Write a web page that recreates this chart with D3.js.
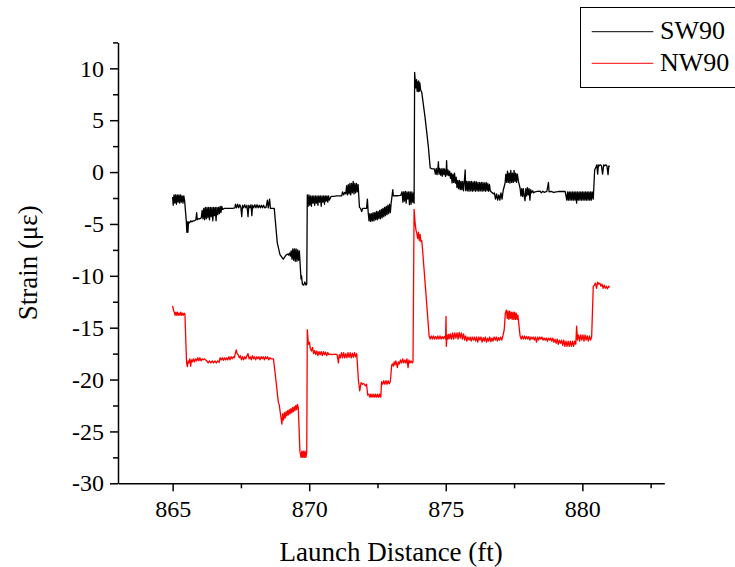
<!DOCTYPE html>
<html>
<head>
<meta charset="utf-8">
<script src="https://cdn.jsdelivr.net/npm/d3@7"></script>
<style>
  html, body { margin: 0; padding: 0; background: #fff; }
  svg { display: block; }
  svg text { font-family: "Liberation Serif", "Times New Roman", Times, serif !important; fill: #000; }
</style>
</head>
<body>
<svg id="chart" width="735" height="567"></svg>
<script>
// ---------------- data ----------------
const seriesNames = ["SW90", "NW90"];
const seriesColors = ["#000000", "#ff0000"];
const xTicksMajor = [865, 870, 875, 880];
const xTicksMinor = [867.5, 872.5, 877.5, 882.5];
const yTicksMajor = [-30, -25, -20, -15, -10, -5, 0, 5, 10];
const yTicksMinor = [-27.5, -22.5, -17.5, -12.5, -7.5, -2.5, 2.5, 7.5, 12.5];
const xTitle = "Launch Distance (ft)";
const yTitle = "Strain (με)";

// SW90 : [distance (ft), strain (με)]
const sw90 = [
[865.00,-2.4],[865.02,-3.2],[865.05,-2.2],[865.08,-3.0],[865.11,-2.2],[865.14,-3.1],[865.17,-2.2],[865.20,-2.9],[865.23,-2.2],[865.26,-3.0],[865.29,-2.2],[865.32,-2.9],[865.35,-2.3],[865.38,-3.0],[865.41,-2.3],[865.44,-2.8],
[865.50,-4.7],[865.52,-5.8],[865.54,-4.8],[865.56,-5.8],[865.58,-4.8],[865.62,-4.9],[865.66,-4.7],[865.70,-4.8],[865.75,-4.7],[865.80,-4.7],[865.85,-4.6],[865.88,-3.9],[865.90,-4.6],[865.95,-4.5],[866.00,-4.5],[866.05,-4.4],
[866.08,-3.7],[866.11,-4.5],[866.14,-3.5],[866.17,-4.6],[866.20,-3.4],[866.23,-4.5],[866.26,-3.4],[866.29,-4.4],[866.32,-3.4],[866.35,-4.6],[866.38,-3.4],[866.41,-4.3],[866.44,-3.4],[866.47,-4.7],[866.50,-3.4],[866.53,-4.2],[866.56,-3.4],[866.59,-4.7],[866.62,-3.4],[866.65,-4.1],[866.68,-3.4],[866.71,-4.0],[866.74,-3.3],[866.77,-3.9],[866.80,-3.3],[866.83,-3.6],
[866.90,-3.5],[867.00,-3.5],[867.10,-3.5],[867.20,-3.5],[867.28,-3.45],
[867.30,-3.1],[867.34,-3.45],[867.38,-3.1],[867.42,-3.45],[867.46,-3.15],[867.50,-3.45],[867.53,-4.3],[867.56,-3.2],[867.60,-3.45],[867.64,-3.15],[867.68,-3.45],[867.72,-3.2],[867.76,-4.3],[867.79,-3.2],[867.83,-3.45],[867.87,-3.15],[867.90,-4.2],[867.93,-3.2],[867.97,-3.45],[868.01,-3.15],[868.05,-3.45],[868.09,-3.15],[868.13,-3.45],[868.17,-3.2],[868.21,-3.45],[868.25,-3.2],[868.29,-3.45],[868.33,-3.2],[868.37,-3.45],[868.42,-3.4],[868.47,-2.7],[868.50,-3.45],[868.55,-2.6],[868.58,-3.5],[868.65,-3.5],[868.72,-3.5],
[868.83,-6.8],[868.93,-7.95],[869.05,-8.4],[869.10,-8.2],[869.15,-8.0],[869.22,-7.9],
[869.25,-8.0],[869.28,-7.8],[869.31,-8.1],[869.34,-7.6],[869.37,-8.4],[869.40,-7.4],[869.43,-8.5],[869.46,-7.4],[869.49,-8.6],[869.52,-7.4],[869.55,-8.6],[869.58,-7.5],[869.61,-8.5],[869.64,-7.6],
[869.70,-10.3],[869.72,-10.0],[869.75,-10.8],[869.80,-10.9],[869.84,-10.6],[869.88,-10.9],[869.91,-10.8],
[869.93,-2.2],[869.96,-3.3],[869.99,-2.2],[870.02,-3.2],[870.05,-2.3],[870.08,-3.3],[870.11,-2.3],[870.14,-3.0],[870.17,-2.3],[870.20,-3.2],[870.23,-2.3],[870.26,-3.0],[870.29,-2.3],[870.32,-3.2],[870.35,-2.3],[870.38,-2.9],[870.41,-2.3],[870.44,-3.3],[870.47,-2.3],[870.50,-2.9],[870.53,-2.3],[870.56,-3.1],[870.59,-2.3],[870.62,-2.8],[870.65,-2.3],[870.68,-2.9],[870.71,-2.3],[870.74,-2.7],
[870.80,-2.35],[870.90,-2.35],[871.00,-2.3],[871.10,-2.3],[871.19,-2.3],[871.22,-1.9],[871.26,-2.2],[871.30,-1.95],[871.34,-2.1],
[871.37,-1.3],[871.40,-2.2],[871.43,-1.2],[871.46,-2.1],[871.49,-1.1],[871.52,-2.2],[871.55,-1.1],[871.58,-2.0],[871.61,-0.9],[871.64,-2.1],[871.67,-1.1],[871.70,-2.0],[871.73,-1.1],[871.76,-1.9],[871.79,-1.2],
[871.84,-3.4],[871.88,-3.5],[871.92,-3.8],[871.96,-3.5],[872.00,-3.5],[872.05,-3.5],[872.10,-3.5],[872.13,-2.6],[872.16,-3.9],
[872.19,-4.7],[872.22,-4.0],[872.25,-4.75],[872.28,-4.0],[872.31,-4.7],[872.34,-3.9],[872.37,-4.7],[872.40,-3.9],[872.43,-4.6],[872.46,-3.8],[872.49,-4.6],[872.52,-3.8],[872.55,-4.5],[872.58,-3.7],[872.61,-4.5],[872.64,-3.6],[872.67,-4.4],[872.70,-3.5],[872.73,-4.3],[872.76,-3.4],[872.79,-4.2],[872.82,-3.3],[872.85,-4.1],[872.88,-3.2],[872.91,-4.0],[872.94,-3.1],[872.97,-3.9],[873.00,-3.0],
[873.06,-1.7],[873.08,-2.3],[873.15,-2.28],[873.25,-2.28],[873.35,-2.25],
[873.40,-1.9],[873.43,-2.9],[873.46,-1.9],[873.49,-2.8],[873.52,-1.86],[873.55,-3.0],[873.58,-1.9],[873.61,-2.6],[873.64,-1.9],[873.67,-3.15],[873.70,-1.9],[873.73,-3.1],[873.76,-1.9],[873.79,-2.9],[873.82,-2.0],[873.84,-3.0],
[873.86,9.6],[873.90,8.1],[873.93,8.9],[873.95,7.8],[873.97,8.7],[873.99,7.75],[874.01,8.8],[874.03,7.8],[874.05,8.6],[874.08,7.9],[874.12,7.7],
[874.24,5.3],[874.36,2.5],[874.43,0.4],[874.50,0.3],[874.58,0.3],
[874.62,-0.2],[874.65,0.35],[874.68,-0.25],[874.71,0.3],[874.73,1.0],[874.75,-0.2],[874.78,0.35],[874.81,-0.3],[874.84,0.3],[874.87,-0.4],[874.90,0.35],[874.93,-0.25],[874.96,0.3],[874.99,-0.42],[875.02,0.3],[875.03,1.1],[875.05,-0.3],[875.08,0.2],[875.11,-0.35],[875.14,0.1],[875.17,-0.6],[875.20,-0.1],[875.23,-1.05],[875.26,-0.2],[875.29,-1.0],[875.32,-0.1],[875.35,-1.06],[875.38,-0.5],
[875.41,-1.5],[875.44,-0.8],[875.47,-1.6],[875.50,-0.8],[875.53,-1.7],[875.56,-0.9],[875.59,-1.7],[875.62,-0.9],[875.65,-1.8],[875.68,-0.9],[875.71,0.2],[875.73,-1.8],[875.76,-0.9],[875.79,-1.8],[875.82,-0.9],[875.85,-1.85],[875.88,-0.9],[875.91,-1.8],[875.94,-0.9],[875.97,-1.85],[876.00,-0.95],[876.03,-1.8],[876.06,-0.9],[876.09,-1.85],[876.12,-0.95],[876.15,-1.8],[876.18,-1.0],[876.21,-1.85],[876.24,-1.0],[876.27,-1.8],[876.30,-1.0],[876.33,-1.85],[876.36,-1.0],[876.39,-1.8],[876.42,-1.05],[876.45,-1.85],[876.48,-1.0],[876.51,-1.8],[876.54,-1.1],[876.57,-1.85],[876.60,-1.2],[876.63,-1.8],
[876.68,-1.95],[876.74,-2.1],[876.78,-2.0],[876.82,-2.6],[876.86,-2.1],[876.90,-2.7],[876.94,-2.2],[876.98,-2.7],[877.02,-2.0],[877.06,-2.6],[877.10,-1.8],
[877.17,-1.06],[877.20,-0.2],[877.23,-1.0],[877.26,0.1],[877.29,-1.0],[877.32,-0.1],[877.35,-1.06],[877.38,0.15],[877.41,-1.0],[877.44,-0.1],[877.47,-1.0],[877.50,0.15],[877.53,-0.9],[877.56,-0.1],[877.59,-1.0],[877.62,-0.2],[877.66,-0.9],
[877.72,-1.55],[877.75,-2.3],[877.78,-1.6],[877.81,-2.35],[877.84,-1.6],[877.87,-2.3],[877.90,-2.75],[877.93,-1.6],[877.96,-2.3],[877.99,-1.5],[878.02,-2.2],[878.05,-1.6],[878.08,-2.7],[878.11,-1.7],[878.14,-2.0],[878.18,-1.8],[878.22,-2.0],[878.27,-1.9],
[878.35,-1.87],[878.45,-1.85],[878.50,-2.0],[878.55,-1.85],[878.60,-1.95],[878.70,-1.85],[878.76,-1.0],[878.78,-1.9],[878.85,-1.85],[878.95,-1.95],[879.05,-1.9],[879.15,-1.87],[879.25,-1.87],[879.37,-1.87],
[879.43,-2.7],[879.46,-1.9],[879.49,-2.7],[879.52,-1.9],[879.55,-2.7],[879.58,-1.9],[879.61,-2.7],[879.64,-1.9],[879.67,-2.7],[879.70,-1.9],[879.73,-2.7],[879.76,-1.9],[879.79,-3.0],[879.82,-1.9],[879.85,-2.7],[879.88,-1.9],[879.91,-2.7],[879.94,-1.9],[879.97,-2.7],[880.00,-1.9],[880.03,-2.7],[880.06,-1.9],[880.09,-2.7],[880.12,-1.9],[880.15,-2.7],[880.18,-1.9],[880.21,-2.7],[880.24,-1.9],[880.27,-2.7],[880.30,-1.9],[880.33,-2.7],[880.36,-1.9],[880.40,-2.6],
[880.45,0.2],[880.50,0.5],[880.53,0.7],[880.56,-0.2],[880.59,0.7],[880.62,0.6],[880.66,0.7],[880.70,0.6],[880.74,-0.2],[880.78,0.7],[880.82,0.6],[880.86,0.7],[880.90,0.6],[880.94,-0.25],[880.97,0.6],[881.00,0.5]
];

// NW90 : [distance (ft), strain (με)]
const nw90 = [
[865.00,-12.9],[865.03,-13.3],[865.06,-13.5],[865.09,-13.8],[865.12,-13.5],[865.15,-13.8],[865.18,-13.5],[865.21,-13.8],[865.24,-13.6],[865.27,-13.8],[865.30,-13.5],[865.33,-13.8],[865.36,-13.6],[865.39,-13.8],[865.42,-13.6],[865.45,-13.7],
[865.51,-18.4],[865.54,-18.75],[865.57,-18.2],[865.60,-18.4],[865.63,-18.0],[865.66,-18.7],[865.69,-18.1],[865.72,-18.3],[865.76,-18.0],[865.80,-18.3],[865.84,-18.0],[865.88,-18.2],[865.92,-17.9],[865.96,-18.2],[866.00,-17.9],[866.04,-18.2],[866.08,-18.0],[866.12,-18.1],[866.16,-18.0],[866.20,-18.1],[866.25,-18.2],[866.30,-18.4],[866.35,-18.2],[866.40,-18.4],[866.45,-18.2],[866.50,-18.4],[866.55,-18.2],[866.60,-18.4],[866.65,-18.2],[866.70,-18.35],[866.74,-17.9],[866.78,-18.1],[866.82,-17.9],[866.86,-18.15],[866.90,-17.9],[866.94,-18.1],[866.98,-17.9],[867.02,-18.1],[867.06,-17.8],[867.10,-18.1],[867.14,-17.8],[867.18,-18.0],[867.22,-17.8],[867.26,-17.9],[867.30,-17.4],[867.33,-17.15],[867.36,-17.5],[867.40,-17.6],[867.44,-17.9],[867.48,-17.7],[867.52,-18.1],[867.56,-17.8],[867.60,-18.1],[867.64,-17.8],[867.68,-18.0],[867.72,-17.7],[867.76,-17.5],[867.80,-18.0],[867.84,-17.8],[867.88,-18.1],[867.92,-17.7],[867.96,-18.0],[868.00,-17.8],[868.04,-18.1],[868.08,-17.8],[868.12,-18.0],[868.16,-17.8],[868.20,-18.1],[868.24,-17.8],[868.28,-18.0],[868.32,-17.8],[868.36,-18.1],[868.40,-17.8],[868.44,-18.0],[868.48,-17.8],[868.52,-18.1],[868.56,-17.9],[868.60,-18.0],[868.65,-18.0],[868.69,-18.0],
[868.75,-19.3],[868.87,-22.2],[868.90,-22.4],[869.00,-24.3],[869.03,-23.3],[869.06,-23.9],[869.09,-23.2],[869.12,-23.7],[869.15,-23.1],[869.18,-23.5],[869.21,-23.0],[869.24,-23.4],[869.27,-22.9],[869.30,-23.3],[869.33,-22.8],[869.36,-23.2],[869.39,-22.7],[869.42,-23.1],[869.45,-22.6],[869.48,-23.0],[869.51,-22.5],[869.54,-22.9],[869.57,-22.4],[869.60,-22.7],
[869.66,-26.9],[869.70,-27.5],[869.73,-26.9],[869.76,-27.5],[869.79,-26.9],[869.82,-27.5],[869.85,-26.9],[869.88,-27.5],[869.91,-27.0],
[869.93,-15.2],[869.97,-16.6],[870.01,-16.4],[870.04,-17.0],[870.08,-17.25],[870.12,-16.9],[870.16,-17.5],[870.20,-17.2],[870.24,-17.6],[870.28,-17.25],[870.32,-17.7],[870.36,-17.3],[870.40,-17.6],[870.44,-17.3],[870.48,-17.7],[870.52,-17.3],[870.56,-17.6],[870.60,-17.35],[870.64,-17.7],[870.68,-17.4],[870.72,-17.6],[870.76,-17.55],[870.85,-17.6],[870.95,-17.55],[871.02,-17.6],[871.07,-18.4],[871.10,-17.6],[871.14,-17.9],[871.18,-17.4],[871.22,-17.9],[871.26,-17.4],[871.30,-17.9],[871.34,-17.5],[871.38,-17.9],[871.42,-17.4],[871.46,-17.85],[871.50,-17.4],[871.54,-17.9],[871.58,-17.45],[871.62,-17.85],[871.66,-17.4],[871.70,-17.8],[871.74,-17.5],
[871.80,-20.0],[871.85,-21.1],[871.90,-20.3],[871.95,-20.45],[872.00,-20.4],[872.06,-20.6],[872.10,-20.45],[872.14,-21.5],[872.18,-21.4],[872.22,-21.7],[872.26,-21.4],[872.30,-21.7],[872.34,-21.4],[872.38,-21.7],[872.42,-21.4],[872.46,-21.7],[872.50,-21.4],[872.54,-21.7],[872.58,-21.4],[872.62,-21.7],[872.65,-20.2],[872.69,-20.45],[872.73,-20.1],[872.77,-20.45],[872.81,-20.1],[872.85,-20.45],[872.89,-20.1],[872.93,-20.4],[872.97,-20.2],
[873.02,-18.6],[873.05,-18.5],[873.08,-18.7],[873.11,-18.3],[873.14,-18.6],[873.17,-18.2],[873.20,-18.5],[873.23,-18.85],[873.26,-18.3],[873.30,-18.5],[873.34,-18.1],[873.38,-18.4],[873.42,-18.0],[873.46,-18.4],[873.50,-18.1],[873.54,-18.4],[873.58,-18.0],[873.62,-18.85],[873.65,-18.1],[873.69,-18.4],[873.73,-18.2],[873.77,-18.4],[873.80,-18.3],
[873.84,-3.6],[873.88,-5.0],[873.91,-5.6],[873.94,-5.9],[873.97,-6.4],[874.00,-5.8],[874.03,-6.6],[874.06,-6.0],[874.09,-6.7],[874.12,-6.6],[874.15,-7.5],[874.27,-11.6],[874.39,-15.8],
[874.43,-16.1],[874.47,-15.8],[874.51,-16.1],[874.55,-15.8],[874.59,-16.1],[874.63,-15.85],[874.67,-16.1],[874.71,-15.8],[874.75,-16.1],[874.79,-15.8],[874.83,-16.1],[874.87,-15.85],[874.91,-16.05],[874.95,-15.85],[874.99,-16.1],[875.01,-13.9],[875.02,-16.8],[875.05,-15.7],[875.08,-16.1],[875.11,-15.65],[875.14,-16.05],[875.17,-15.6],[875.21,-16.1],[875.25,-15.5],[875.29,-16.1],[875.33,-15.5],[875.37,-16.0],[875.41,-15.5],[875.45,-16.1],[875.49,-15.45],[875.53,-16.0],[875.57,-15.5],[875.61,-16.1],[875.65,-15.6],[875.69,-16.2],[875.73,-15.8],[875.77,-16.3],[875.81,-15.9],[875.85,-16.2],[875.89,-15.9],[875.93,-16.3],[875.97,-15.9],[876.01,-16.2],[876.05,-15.9],[876.09,-16.3],[876.13,-15.9],[876.17,-16.4],[876.21,-15.9],[876.25,-16.2],[876.29,-15.9],[876.33,-16.4],[876.37,-15.95],[876.41,-16.3],[876.45,-15.9],[876.49,-16.4],[876.53,-16.0],[876.57,-16.3],[876.61,-15.9],[876.65,-16.35],[876.69,-16.0],[876.73,-16.3],[876.77,-15.9],[876.81,-16.2],[876.85,-15.9],[876.89,-16.3],[876.93,-15.95],[876.97,-16.2],[877.01,-15.9],[877.05,-16.2],[877.09,-15.8],
[877.14,-15.2],[877.18,-13.6],[877.22,-13.3],[877.25,-14.1],[877.28,-13.4],[877.31,-14.2],[877.34,-13.4],[877.37,-14.1],[877.40,-13.5],[877.43,-14.2],[877.46,-13.5],[877.49,-14.2],[877.52,-13.5],[877.55,-14.2],[877.58,-13.6],[877.61,-14.2],[877.64,-13.8],
[877.72,-15.8],[877.76,-16.1],[877.80,-15.8],[877.84,-16.1],[877.88,-15.8],[877.92,-16.1],[877.96,-15.85],[878.00,-16.1],[878.04,-15.85],[878.08,-16.2],[878.12,-15.9],[878.16,-16.1],[878.20,-15.9],[878.24,-16.2],[878.28,-15.9],[878.32,-16.4],[878.36,-15.9],[878.40,-16.2],[878.44,-15.9],[878.48,-16.1],[878.52,-15.9],[878.56,-16.2],[878.60,-16.0],[878.64,-16.2],[878.68,-16.0],[878.72,-16.3],[878.76,-16.0],[878.80,-16.2],[878.84,-16.0],[878.88,-16.3],[878.92,-16.0],[878.96,-16.4],[879.00,-16.1],[879.04,-16.5],[879.08,-16.1],[879.12,-16.6],[879.16,-16.2],[879.20,-16.5],[879.24,-16.2],[879.28,-16.7],[879.32,-16.2],[879.36,-16.8],[879.40,-16.3],[879.44,-16.8],[879.48,-16.3],[879.52,-16.8],[879.56,-16.3],[879.60,-16.8],[879.64,-16.3],[879.68,-16.8],[879.72,-16.3],[879.76,-16.6],[879.79,-14.85],[879.82,-16.2],[879.86,-15.7],[879.90,-16.3],[879.94,-15.7],[879.98,-16.2],[880.02,-15.7],[880.06,-16.3],[880.10,-15.7],[880.14,-16.2],[880.18,-15.8],[880.22,-16.3],[880.26,-15.8],[880.30,-16.2],[880.34,-15.9],
[880.40,-11.0],[880.44,-10.9],[880.48,-10.7],[880.52,-11.2],[880.56,-10.6],[880.60,-10.8],[880.64,-10.7],[880.68,-11.0],[880.72,-10.8],[880.76,-11.2],[880.80,-10.9],[880.84,-11.2],[880.88,-11.0],[880.92,-11.25],[880.96,-11.0],[881.00,-11.1]
];

const allSeries = [sw90, nw90];
const serifFont = '"Liberation Serif", "Times New Roman", Times, serif';

// ---------------- drawing ----------------
const svg = d3.select("#chart");
const plot = { left: 118, right: 664.3, top: 42.4, bottom: 483.3 };

const x = d3.scaleLinear().domain([863, 883]).range([plot.left, plot.right]);
const y = d3.scaleLinear().domain([-30, 12.5]).range([plot.bottom, plot.top]);

const line = d3.line().x(d => x(d[0])).y(d => y(d[1]));

// data lines
const lines = svg.append("g");
allSeries.forEach((s, i) => {
  lines.append("path")
    .datum(s)
    .attr("fill", "none")
    .attr("stroke", seriesColors[i])
    .attr("stroke-width", 1.3)
    .attr("stroke-linejoin", "round")
    .attr("d", line);
});

// axes
function styleAxis(g) {
  g.attr("font-family", serifFont).attr("font-size", 24);
  g.selectAll("path.domain").attr("stroke", "#000").attr("stroke-width", 1.5);
  g.selectAll(".tick line").attr("stroke", "#000").attr("stroke-width", 1.5);
  g.selectAll("text").style("font-family", serifFont).style("font-size", "24px").attr("fill", "#000");
}

const xMinor = svg.append("g").attr("transform", `translate(0,${plot.bottom})`)
  .call(d3.axisBottom(x).tickValues(xTicksMinor).tickSize(5).tickFormat(""));
xMinor.select("path.domain").remove();
styleAxis(xMinor);

const xAxis = svg.append("g").attr("transform", `translate(0,${plot.bottom})`)
  .call(d3.axisBottom(x).tickValues(xTicksMajor).tickSize(8).tickPadding(9).tickSizeOuter(0).tickFormat(d3.format("d")));
styleAxis(xAxis);

const yMinor = svg.append("g").attr("transform", `translate(${plot.left},0)`)
  .call(d3.axisLeft(y).tickValues(yTicksMinor).tickSize(5).tickFormat(""));
yMinor.select("path.domain").remove();
styleAxis(yMinor);

const yAxis = svg.append("g").attr("transform", `translate(${plot.left},0)`)
  .call(d3.axisLeft(y).tickValues(yTicksMajor).tickSize(8).tickPadding(6).tickSizeOuter(0).tickFormat(d => d < 0 ? "-" + Math.abs(d) : String(d)));
styleAxis(yAxis);

// axis titles
svg.append("text")
  .attr("x", (plot.left + plot.right) / 2)
  .attr("y", 561)
  .attr("text-anchor", "middle")
  .style("font-family", serifFont)
  .style("font-size", "27px")
  .text(xTitle);

svg.append("text")
  .attr("transform", `translate(37,${(plot.top + plot.bottom) / 2}) rotate(-90)`)
  .attr("text-anchor", "middle")
  .style("font-family", serifFont)
  .style("font-size", "27px")
  .text(yTitle);

// legend
const legend = svg.append("g");
legend.append("rect")
  .attr("x", 580.5).attr("y", 7.5)
  .attr("width", 170).attr("height", 80)
  .attr("fill", "#fff").attr("stroke", "#000").attr("stroke-width", 1);
seriesNames.forEach((name, i) => {
  const ly = 31.7 + i * 31.6;
  legend.append("line")
    .attr("x1", 591.7).attr("x2", 653.3)
    .attr("y1", ly).attr("y2", ly)
    .attr("stroke", seriesColors[i]).attr("stroke-width", 1);
  legend.append("text")
    .attr("x", 660).attr("y", ly + 7.5)
    .style("font-family", serifFont)
    .style("font-size", "26px")
    .text(name);
});
</script>
</body>
</html>
